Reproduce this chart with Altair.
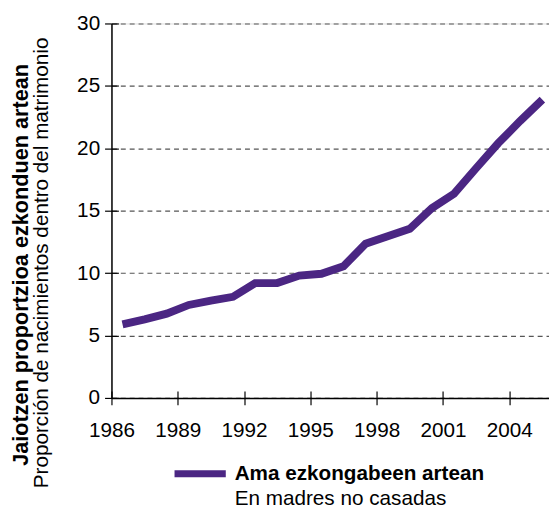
import altair as alt
import pandas as pd

years = list(range(1986, 2006))
values = [5.9, 6.3, 6.75, 7.45, 7.8, 8.1, 9.2, 9.2, 9.8, 9.95,
          10.55, 12.35, 12.95, 13.55, 15.2, 16.35, 18.4, 20.4, 22.2, 23.9]
tick_years = [1986, 1989, 1992, 1995, 1998, 2001, 2004]
y_ticks = [0, 5, 10, 15, 20, 25, 30]

title_bold = "Jaiotzen proportzioa ezkonduen artean"
title_normal = "Proporción de nacimientos dentro del matrimonio"
legend_bold = "Ama ezkongabeen artean"
legend_normal = "En madres no casadas"

PURPLE = "#4b2683"
FONT = "Liberation Sans"
FS = 21

df = pd.DataFrame({"year": years, "value": values})

xscale = alt.Scale(domain=[1986, 2005.8], nice=False, zero=False)
yscale = alt.Scale(domain=[0, 30], nice=False)

base = alt.Chart(df).transform_calculate(xpos="datum.year + 0.5")

line = base.mark_line(color=PURPLE, strokeWidth=8, strokeCap="butt", strokeJoin="miter").encode(
    x=alt.X("xpos:Q", scale=xscale,
            axis=alt.Axis(values=tick_years, orient="bottom", format="d", title=None, grid=False,
                          domainColor="black", domainWidth=1.5, tickColor="black",
                          tickWidth=1.2, tickSize=7, labelPadding=15, labelFlush=False,
                          labelOverlap=False,
                          labelFontSize=FS, labelFont=FONT, labelColor="black")),
    y=alt.Y("value:Q", scale=yscale,
            axis=alt.Axis(values=y_ticks, orient="left", title=None, grid=True, gridDash=[5, 4],
                          gridColor="#555555", gridWidth=1.2,
                          domainColor="black", domainWidth=1.5, tickColor="black",
                          tickWidth=1.2, tickSize=7, labelPadding=5, labelFlush=False,
                          labelOverlap=False,
                          labelFontSize=FS, labelFont=FONT, labelColor="black")),
)

inner = base.mark_line(opacity=0).encode(
    x=alt.X("xpos:Q", scale=xscale,
            axis=alt.Axis(values=tick_years, orient="bottom", offset=-7, domain=False,
                          labels=False, grid=False, title=None, tickColor="black",
                          tickWidth=1.2, tickSize=7)),
    y=alt.Y("value:Q", scale=yscale,
            axis=alt.Axis(values=y_ticks, orient="left", offset=-7, domain=False,
                          labels=False, grid=False, title=None, tickColor="black",
                          tickWidth=1.2, tickSize=7)),
)

def txt(s, x, y, bold=False, angle=0, align="left", size=FS):
    return alt.Chart(pd.DataFrame({"t": [s]})).mark_text(
        font=FONT, fontSize=size, fontWeight="bold" if bold else "normal",
        angle=angle, align=align, baseline="middle", color="black"
    ).encode(text="t:N", x=alt.value(x), y=alt.value(y))

t1 = txt(title_bold, -92, 245, bold=True, angle=270, align="center", size=22)
t2 = txt(title_normal, -70, 243, angle=270, align="center")
swatch = alt.Chart(pd.DataFrame({"a": [0]})).mark_rule(color=PURPLE, strokeWidth=7).encode(
    x=alt.value(64), x2=alt.value(116), y=alt.value(457))
l1 = txt(legend_bold, 125, 457, bold=True)
l2 = txt(legend_normal, 125, 483)

chart = alt.layer(inner, line, t1, t2, swatch, l1, l2).resolve_axis(
    x="independent", y="independent"
).properties(
    width=444, height=380,
    padding={"left": 105, "top": 12, "right": 0, "bottom": 109},
    autosize=alt.AutoSizeParams(type="none"),
).configure_view(stroke=None).configure(background="white")

chart.save("out.html", embed_options={"renderer": "svg", "actions": False})
